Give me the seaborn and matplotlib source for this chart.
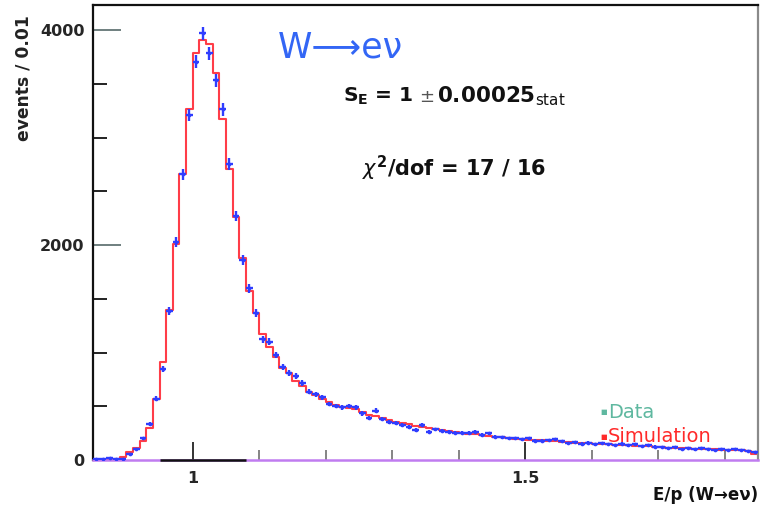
import numpy as np
import pandas as pd
import matplotlib
matplotlib.use("Agg")
import matplotlib.pyplot as plt
import seaborn as sns
from matplotlib.ticker import FixedLocator

# E/p histogram, 100 bins of width 0.01 between 0.85 and 1.85
bin_lo = 0.85
bin_hi = 1.85
bin_width = 0.01
n_bins = 100

data_counts = [
    10, 12, 15, 10, 12, 56, 99, 202, 332, 570,
    846, 1386, 2025, 2660, 3208, 3705, 3968, 3782, 3534, 3261,
    2753, 2269, 1860, 1597, 1364, 1122, 1100, 977, 868, 812,
    781, 719, 635, 611, 583, 521, 502, 490, 502, 490,
    434, 388, 459, 378, 357, 347, 326, 310, 279, 326,
    264, 285, 273, 264, 254, 254, 254, 264, 233, 248,
    217, 211, 202, 202, 192, 202, 180, 180, 186, 192,
    175, 158, 165, 152, 160, 145, 155, 150, 140, 152,
    135, 145, 130, 140, 125, 118, 110, 120, 105, 112,
    98, 108, 100, 95, 105, 92, 100, 95, 88, 70,
]

sim_counts = [
    3, 4, 5, 8, 25, 78, 109, 177, 301, 564,
    908, 1395, 2006, 2657, 3261, 3782, 3912, 3869, 3605, 3168,
    2703, 2263, 1876, 1575, 1364, 1175, 1054, 958, 853, 812,
    735, 688, 635, 605, 567, 540, 515, 495, 480, 470,
    445, 420, 405, 390, 370, 355, 345, 335, 320, 305,
    295, 285, 275, 268, 260, 252, 245, 240, 232, 225,
    218, 212, 206, 200, 195, 190, 186, 182, 178, 174,
    170, 166, 162, 158, 155, 152, 148, 145, 142, 140,
    137, 134, 130, 126, 122, 118, 115, 112, 110, 107,
    105, 103, 100, 98, 96, 94, 92, 90, 88, 60,
]

y_tick_values = [0, 2000, 4000]
y_tick_labels = ["0", "2000", "4000"]
x_tick_values = [1.0, 1.5]
x_tick_labels = ["1", "1.5"]

edges = np.round(bin_lo + bin_width * np.arange(n_bins + 1), 3)
centers = np.round(edges[:-1] + bin_width / 2, 4)
df = pd.DataFrame({"ep": centers, "data": data_counts, "sim": sim_counts})

sns.set_theme(style="white")
plt.rcParams["font.family"] = ["DejaVu Sans"]
plt.rcParams["mathtext.fontset"] = "dejavusans"

fig = plt.figure(figsize=(7.61, 5.09), dpi=100)
ax = fig.add_axes([93 / 761, 49 / 509, 665 / 761, 455 / 509])

sim_red = "#ff3d48"
data_blue = "#2f3dff"

# simulation as a step histogram
sns.histplot(data=df, x="ep", weights="sim", bins=n_bins, binrange=(bin_lo, bin_hi),
             element="step", fill=False, color=sim_red, linewidth=1.5, ax=ax,
             zorder=2)

# data points with statistical error bars
ax.errorbar(df["ep"], df["data"], yerr=np.sqrt(df["data"]), xerr=bin_width / 2,
            fmt="none", ecolor=data_blue, elinewidth=1.7, capsize=0, zorder=3)
sns.scatterplot(data=df, x="ep", y="data", color=data_blue, s=7,
                linewidth=0, ax=ax, zorder=4)

ax.set_xlim(bin_lo, bin_hi)
ax.set_ylim(0, 4233)

# axes frame
for side in ["left", "top"]:
    ax.spines[side].set_color("#111111")
    ax.spines[side].set_linewidth(1.6)
ax.spines["right"].set_color("#8a8a8a")
ax.spines["right"].set_linewidth(1.6)
ax.spines["bottom"].set_color("#c07cf0")
ax.spines["bottom"].set_linewidth(1.8)
ax.hlines(0, 0.95, 1.08, color="#111111", linewidth=1.8, zorder=5, clip_on=False)

# ticks drawn inward
ax.yaxis.set_major_locator(FixedLocator(y_tick_values))
ax.yaxis.set_minor_locator(FixedLocator([500, 1000, 1500, 2500, 3000, 3500]))
ax.xaxis.set_major_locator(FixedLocator(x_tick_values))
ax.xaxis.set_minor_locator(FixedLocator([1.1, 1.2, 1.3, 1.4, 1.6, 1.7, 1.8]))
ax.set_yticklabels(y_tick_labels, fontsize=11.5, fontweight="bold")
ax.set_xticklabels(x_tick_labels, fontsize=11.5, fontweight="bold")
ax.tick_params(axis="y", which="major", direction="in", length=20, width=1.4,
               color="#6f7f7f", pad=6, left=True)
ax.tick_params(axis="y", which="minor", direction="in", length=10, width=1.4,
               color="#222222", left=True)
ax.tick_params(axis="x", which="major", direction="in", length=13, width=1.4,
               color="#333333", pad=8, bottom=True)
ax.tick_params(axis="x", which="minor", direction="in", length=7, width=1.2,
               color="#707070", bottom=True)

ax.set_xlabel("")
ax.set_ylabel("")
fig.text(24 / 761, 1 - 78 / 509, "events / 0.01", rotation=90, ha="center",
         va="center", fontsize=12.3, fontweight="bold", color="#222222")
fig.text(758 / 761, 1 - 495 / 509, "E/p (W→eν)", ha="right", va="center",
         fontsize=12, fontweight="bold", color="#111111")

# annotations
fig.text(278 / 761, 1 - 47 / 509, "W⟶eν", fontsize=25, color="#3366f5",
         ha="left", va="center")
fig.text(343 / 761, 1 - 96 / 509, r"S$_\mathbf{E}$ = 1", fontsize=14.5,
         fontweight="bold", color="#111111", ha="left", va="center")
fig.text(419 / 761, 1 - 97 / 509, "±", fontsize=13, color="#555555",
         ha="left", va="center")
fig.text(437 / 761, 1 - 96 / 509, r"0.00025$_{\mathrm{stat}}$", fontsize=15.5,
         fontweight="bold", color="#111111", ha="left", va="center")
fig.text(362 / 761, 1 - 168 / 509, r"$\chi^\mathbf{2}$/dof = 17 / 16",
         fontsize=15, fontweight="bold", color="#111111", ha="left",
         va="center")

# legend entries
fig.text(600 / 761, 1 - 412 / 509, "■", fontsize=5, color="#5fb8a0",
         ha="left", va="center")
fig.text(608 / 761, 1 - 412 / 509, "Data", fontsize=14, color="#5fb8a0",
         ha="left", va="center")
fig.text(600 / 761, 1 - 437 / 509, "■", fontsize=5, color="#ff2a2a",
         ha="left", va="center")
fig.text(608 / 761, 1 - 437 / 509, "Simulation", fontsize=14, color="#ff2a2a",
         ha="left", va="center")

fig.savefig("out.png", dpi=100)
